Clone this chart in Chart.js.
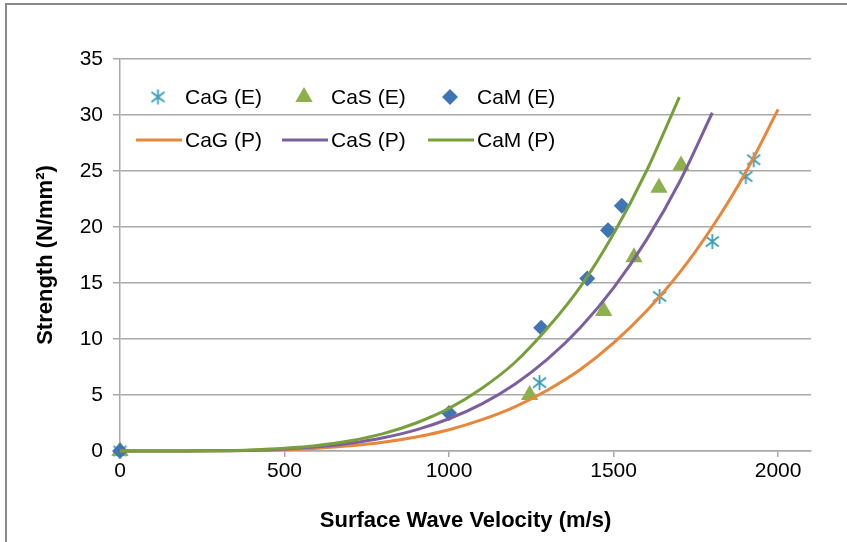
<!DOCTYPE html>
<html>
<head>
<meta charset="utf-8">
<script src="https://cdn.jsdelivr.net/npm/chart.js@4/dist/chart.umd.min.js"></script>
<style>
  html, body { margin: 0; padding: 0; background: #fff; overflow: hidden; }
  #wrap { position: relative; width: 847px; height: 542px; }
  #frame { position: absolute; left: 5px; top: 3px; width: 900px; height: 600px;
           border-left: 2px solid #8a8a8a; border-top: 2px solid #8a8a8a; }
  canvas { position: absolute; left: 0; top: 0; }
</style>
</head>
<body>
<div id="wrap">
  <div id="frame"></div>
  <canvas id="chart" width="847" height="542"></canvas>
</div>
<script>
// measured points (E)
const cagX = [0, 1275, 1640, 1800, 1902, 1926];
const cagY = [0, 6.1, 13.8, 18.7, 24.5, 26.0];
const casX = [0, 1245, 1470, 1562, 1638, 1705];
const casY = [0, 5.0, 12.5, 17.3, 23.5, 25.5];
const camX = [0, 1000, 1280, 1420, 1483, 1525];
const camY = [0, 3.4, 11.0, 15.4, 19.7, 21.9];

// predicted curves (P), every 100 m/s
const cagPX = [0, 100, 200, 300, 400, 500, 600, 700, 800, 900, 1000, 1100, 1200, 1300, 1400, 1500, 1600, 1700, 1800, 1900, 2000];
const cagPY = [0, 0, 0, 0.02, 0.05, 0.12, 0.25, 0.46, 0.78, 1.25, 1.9, 2.8, 3.95, 5.45, 7.3, 9.65, 12.5, 15.9, 20.0, 24.8, 30.5];
const casPX = [0, 100, 200, 300, 400, 500, 600, 700, 800, 900, 1000, 1100, 1200, 1300, 1400, 1500, 1600, 1700, 1800];
const casPY = [0, 0, 0, 0.02, 0.07, 0.18, 0.37, 0.69, 1.18, 1.89, 2.88, 4.21, 5.96, 8.22, 11.05, 14.56, 18.85, 24.0, 30.2];
const camPX = [0, 100, 200, 300, 400, 500, 600, 700, 800, 900, 1000, 1100, 1200, 1300, 1400, 1500, 1600, 1700];
const camPY = [0, 0, 0.01, 0.03, 0.1, 0.24, 0.49, 0.91, 1.55, 2.5, 3.8, 5.6, 7.9, 11.0, 14.7, 19.4, 25.0, 31.6];

const xTicks = [0, 500, 1000, 1500, 2000];
const yTicks = [0, 5, 10, 15, 20, 25, 30, 35];

const FONT = "'Liberation Sans', Arial, sans-serif";
const GRID = '#a9a9a9';

function pts(xs, ys) {
    return xs.map((x, i) => ({x: x, y: ys[i]}));
}

// excel-like asterisk marker (vertical bar + X)
function asterisk(color) {
    const c = document.createElement('canvas');
    c.width = 17; c.height = 17;
    const g = c.getContext('2d');
    g.strokeStyle = color;
    g.lineWidth = 1.8;
    g.beginPath();
    g.moveTo(8.5, 1); g.lineTo(8.5, 16);
    g.moveTo(2, 3.5); g.lineTo(15, 13.5);
    g.moveTo(15, 3.5); g.lineTo(2, 13.5);
    g.stroke();
    return c;
}

const colors = {
    cagE: '#3a9db8', casE: '#8cb04c', camE: '#3f75b4',
    cagP: '#e8863a', casP: '#7b5f9f', camP: '#77a03b'
};
const starImg = asterisk(colors.cagE);

const datasets = [
    {label: 'CaG (E)', data: pts(cagX, cagY), pointStyle: starImg, pointRadius: 8,
     backgroundColor: colors.cagE, borderColor: colors.cagE, showLine: false, order: 6},
    {label: 'CaS (E)', data: pts(casX, casY), pointStyle: 'triangle', pointRadius: 10,
     backgroundColor: colors.casE, borderColor: colors.casE, borderWidth: 0, showLine: false, order: 5},
    {label: 'CaM (E)', data: pts(camX, camY), pointStyle: 'rectRot', pointRadius: 8,
     backgroundColor: colors.camE, borderColor: colors.camE, borderWidth: 0, showLine: false, order: 4},
    {label: 'CaG (P)', data: pts(cagPX, cagPY), showLine: true, pointRadius: 0, borderWidth: 3,
     borderColor: colors.cagP, backgroundColor: colors.cagP, cubicInterpolationMode: 'monotone', order: 3},
    {label: 'CaS (P)', data: pts(casPX, casPY), showLine: true, pointRadius: 0, borderWidth: 3,
     borderColor: colors.casP, backgroundColor: colors.casP, cubicInterpolationMode: 'monotone', order: 2},
    {label: 'CaM (P)', data: pts(camPX, camPY), showLine: true, pointRadius: 0, borderWidth: 3,
     borderColor: colors.camP, backgroundColor: colors.camP, cubicInterpolationMode: 'monotone', order: 1},
];

// legend sits inside the plot, two rows of three
const insideLegend = {
    id: 'insideLegend',
    afterDraw(chart) {
        const ctx = chart.ctx;
        const cols = [136, 282, 428];
        const rows = [97, 140];
        ctx.save();
        ctx.font = '21px ' + FONT;
        ctx.textBaseline = 'middle';
        chart.data.datasets.forEach((ds, i) => {
            const col = cols[i % 3];
            const row = rows[Math.floor(i / 3)];
            const mx = col + 22;
            if (i < 3) {
                if (ds.pointStyle instanceof HTMLCanvasElement) {
                    ctx.drawImage(ds.pointStyle, mx - 8.5, row - 8.5);
                } else {
                    ctx.fillStyle = ds.backgroundColor;
                    ctx.strokeStyle = ds.backgroundColor;
                    Chart.helpers.drawPoint(ctx, {pointStyle: ds.pointStyle, radius: ds.pointRadius, rotation: 0, borderWidth: 0}, mx, row);
                }
            } else {
                ctx.strokeStyle = ds.borderColor;
                ctx.lineWidth = 3;
                ctx.beginPath();
                ctx.moveTo(col, row);
                ctx.lineTo(col + 46, row);
                ctx.stroke();
            }
            ctx.fillStyle = '#000';
            ctx.fillText(ds.label, col + 49, row + 1);
        });
        ctx.restore();
    }
};

new Chart(document.getElementById('chart'), {
    type: 'scatter',
    data: {datasets: datasets},
    options: {
        responsive: false,
        animation: false,
        clip: false,
        layout: {padding: {left: 0, top: 59, right: 36, bottom: 0}},
        plugins: {legend: {display: false}, tooltip: {enabled: false}},
        scales: {
            x: {
                type: 'linear',
                min: 0,
                max: 2100,
                afterFit: scale => { scale.height = 91; },
                afterBuildTicks: scale => { scale.ticks = xTicks.map(v => ({value: v})); },
                border: {display: true, color: GRID, width: 1.5},
                grid: {drawOnChartArea: false, drawTicks: true, tickLength: 6, color: GRID, lineWidth: 1.5},
                ticks: {color: '#000', padding: 2, font: {family: FONT, size: 21}, maxRotation: 0, autoSkip: false,
                        callback: v => String(v)},
                title: {display: true, text: 'Surface Wave Velocity (m/s)', color: '#000',
                        font: {family: FONT, size: 22, weight: 'bold'}, padding: {top: 0, bottom: 8}}
            },
            y: {
                type: 'linear',
                min: 0,
                max: 35,
                afterFit: scale => { scale.width = 120; },
                afterBuildTicks: scale => { scale.ticks = yTicks.map(v => ({value: v})); },
                border: {display: true, color: GRID, width: 1.5},
                grid: {drawOnChartArea: true, drawTicks: true, tickLength: 7, color: GRID, lineWidth: 1.5},
                ticks: {color: '#000', padding: 10, font: {family: FONT, size: 21}, autoSkip: false,
                        callback: v => String(v)},
                title: {display: true, text: 'Strength (N/mm²)', color: '#000',
                        font: {family: FONT, size: 22, weight: 'bold'}, padding: {top: 33, bottom: 0}}
            }
        }
    },
    plugins: [insideLegend]
});
</script>
</body>
</html>
